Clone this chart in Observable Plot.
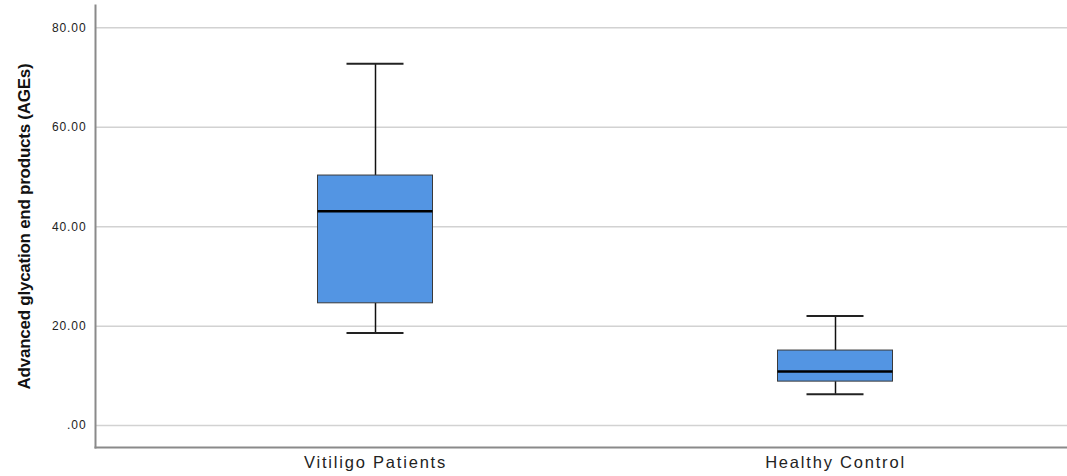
<!DOCTYPE html>
<html>
<head>
<meta charset="utf-8">
<script src="https://cdn.jsdelivr.net/npm/d3@7"></script>
<script src="https://cdn.jsdelivr.net/npm/@observablehq/plot@0.6"></script>
<style>
  html, body { margin: 0; padding: 0; background: #fff; }
  #chart svg { display: block; }
  g[aria-label="y-axis label"] text { font-family: "Liberation Sans", Arial, sans-serif; font-size: 17px; letter-spacing: -0.25px; font-weight: bold; fill: #111; }
  g[aria-label="y-axis tick label"] text { font-family: "Liberation Sans", Arial, sans-serif; font-size: 12px; letter-spacing: 0.9px; fill: #222; }
  g[aria-label="x-axis tick label"] text { font-family: "Liberation Sans", Arial, sans-serif; font-size: 16.5px; letter-spacing: 1.8px; fill: #222; }
</style>
</head>
<body>
<div id="chart"></div>
<script>
const groups = ["Vitiligo Patients", "Healthy Control"];
const whiskerLow = [18.65, 6.3];
const q1 = [24.6, 8.85];
const median = [43.1, 10.9];
const q3 = [50.3, 15.1];
const whiskerHigh = [72.8, 22.07];
const yTicks = [0, 20, 40, 60, 80];
const yLabel = "Advanced glycation end products (AGEs)";

const rows = groups.map((g, i) => ({
  group: g, low: whiskerLow[i], q1: q1[i], median: median[i], q3: q3[i], high: whiskerHigh[i]
}));

const chart = Plot.plot({
  width: 1067,
  height: 476,
  marginLeft: 95,
  marginRight: 0,
  marginTop: 5,
  marginBottom: 29,
  style: { background: "#fff", overflow: "visible" },
  x: { type: "band", domain: groups, range: [95, 1115], padding: 0.217, label: null },
  y: { domain: [-4.4, 84.5], label: null },
  marks: [
    Plot.ruleY(yTicks, { stroke: "#d2d2d2", strokeWidth: 1.5 }),
    Plot.frame({ anchor: "left", stroke: "#8a8a8a", strokeWidth: 2 }),
    Plot.frame({ anchor: "bottom", stroke: "#8a8a8a", strokeWidth: 2 }),
    Plot.axisY({ ticks: yTicks, tickSize: 0, tickPadding: 9,
      tickFormat: d => d === 0 ? ".00" : d.toFixed(2),
      label: yLabel, labelAnchor: "center", labelArrow: "none", labelOffset: 78 }),
    Plot.axisX({ tickSize: 0, tickPadding: 9, label: null }),
    Plot.ruleX(rows, { x: "group", y1: "low", y2: "q1", stroke: "#111", strokeWidth: 1.5 }),
    Plot.ruleX(rows, { x: "group", y1: "q3", y2: "high", stroke: "#111", strokeWidth: 1.5 }),
    Plot.tickY(rows, { x: "group", y: "low", stroke: "#222", strokeWidth: 2, insetLeft: 151.5, insetRight: 151.5 }),
    Plot.tickY(rows, { x: "group", y: "high", stroke: "#222", strokeWidth: 2, insetLeft: 151.5, insetRight: 151.5 }),
    Plot.barY(rows, { x: "group", y1: "q1", y2: "q3", fill: "#5395e3", stroke: "#3a3a3a", strokeWidth: 1, insetLeft: 122.5, insetRight: 122.5 }),
    Plot.tickY(rows, { x: "group", y: "median", stroke: "#000", strokeWidth: 2.5, insetLeft: 122.5, insetRight: 122.5 })
  ]
});
document.getElementById("chart").appendChild(chart);
</script>
</body>
</html>
